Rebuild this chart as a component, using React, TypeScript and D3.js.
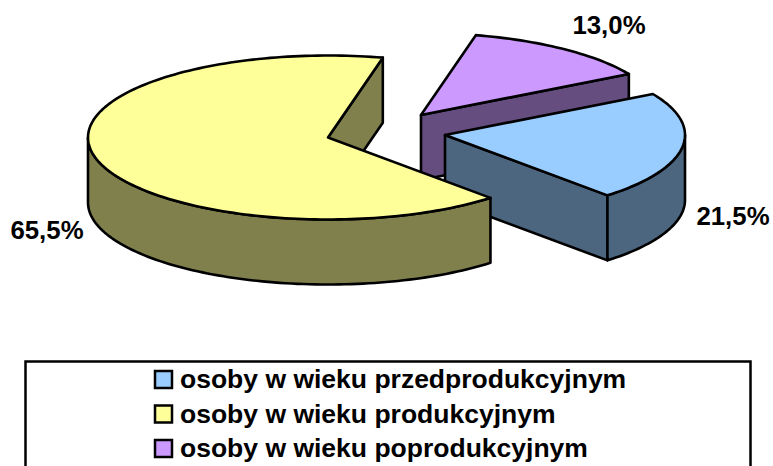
import React from "react";
import * as d3 from "d3";

const categories = ["osoby w wieku przedprodukcyjnym", "osoby w wieku produkcyjnym", "osoby w wieku poprodukcyjnym"];
const values = [21.5, 65.5, 13.0];
const labels = ["21,5%", "65,5%", "13,0%"];
const topColors = ["#99CCFF", "#FFFF99", "#CC99FF"];
const sideColors = ["#4D6680", "#80804D", "#664D80"];
const centers: [number, number][] = [[445, 135], [328, 137.5], [421, 115]];
const labelPos: [number, number][] = [[733, 224.5], [47, 239], [609, 33.5]];
const drawOrder = [2, 0, 1];

const RX = 240, RY = 82, DEPTH = 65;
const pieGen = d3.pie<number>().sort(null).startAngle((60 * Math.PI) / 180).endAngle((420 * Math.PI) / 180);
const arcs = pieGen(values);
const lineGen = d3.line();

function pt(c: [number, number], a: number, dy = 0): [number, number] {
  return [c[0] + RX * Math.sin(a), c[1] - RY * Math.cos(a) + dy];
}
function sample(c: [number, number], a0: number, a1: number, dy = 0) {
  const n = Math.max(2, Math.ceil(Math.abs(a1 - a0) * 40));
  return d3.range(n + 1).map((i) => pt(c, a0 + ((a1 - a0) * i) / n, dy));
}

export default function App() {
  return (
    <svg width={773} height={466} style={{ position: "absolute", left: 0, top: 0, display: "block" }} fontFamily="'Liberation Sans', Arial, sans-serif" fontWeight="bold">
      {drawOrder.map((i) => {
        const c = centers[i];
        const a0 = arcs[i].startAngle, a1 = arcs[i].endAngle;
        const walls: string[] = [];
        // the radial wall at the clockwise end of each slice faces the viewer
        const p = pt(c, a1);
        walls.push(lineGen([c, p, [p[0], p[1] + DEPTH], [c[0], c[1] + DEPTH], c])! + "Z");
        // outer wall: only the front half of the ellipse (PI/2..3PI/2)
        const f0 = Math.max(a0, Math.PI / 2), f1 = Math.min(a1, (3 * Math.PI) / 2);
        if (f1 > f0) {
          const top = sample(c, f0, f1);
          const bot = sample(c, f1, f0, DEPTH);
          walls.push(lineGen([...top, ...bot])! + "Z");
        }
        const topPath = lineGen([c, ...sample(c, a0, a1)])! + "Z";
        return (
          <g key={i} stroke="#000" strokeWidth={2.6} strokeLinejoin="round">
            {walls.map((d, k) => <path key={k} d={d} fill={sideColors[i]} />)}
            <path d={topPath} fill={topColors[i]} />
          </g>
        );
      })}
      {labels.map((t, i) => (
        <text key={t} x={labelPos[i][0]} y={labelPos[i][1]} fontSize={25.8} textAnchor="middle" fill="#000">{t}</text>
      ))}
      <rect x={25.5} y={361.5} width={725} height={130} fill="#fff" stroke="#000" strokeWidth={2.5} />
      {categories.map((t, i) => (
        <g key={t}>
          <rect x={155} y={371 + i * 34.5} width={17} height={17} fill={topColors[i]} stroke="#000" strokeWidth={2.5} />
          <text x={180} y={388 + i * 34.5} fontSize={26.5} fill="#000">{t}</text>
        </g>
      ))}
    </svg>
  );
}
